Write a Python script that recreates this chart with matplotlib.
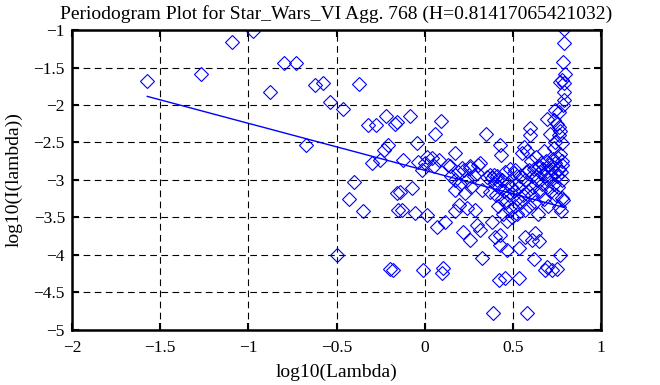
import matplotlib
matplotlib.use("Agg")
import matplotlib.pyplot as plt

# periodogram points (log10 frequency, log10 power)
log_lambda = [
    -1.573, -1.27, -1.094, -0.975, -0.879, -0.80, -0.73, -0.673, -0.622, -0.577,
    -0.537, -0.499, -0.463, -0.43, -0.404, -0.372, -0.35, -0.323, -0.30, -0.278,
    -0.253, -0.234, -0.219, -0.206, -0.197, -0.181, -0.168, -0.158, -0.155, -0.15,
    -0.14, -0.13, -0.121, -0.083, -0.073, -0.058, -0.045, -0.036, -0.017, -0.008,
    0.0, 0.012, 0.012, 0.04, 0.05, 0.055, 0.068, 0.08, 0.093, 0.096,
    0.105, 0.115, 0.134, 0.144, 0.15, 0.17, 0.172, 0.172, 0.172, 0.19,
    0.191, 0.2, 0.21, 0.22, 0.219, 0.229, 0.238, 0.24, 0.257, 0.257,
    0.257, 0.26, 0.28, 0.285, 0.295, 0.295, 0.30, 0.314, 0.314, 0.323,
    0.323, 0.346, 0.35, 0.37, 0.37, 0.38, 0.38, 0.389, 0.39, 0.399,
    0.40, 0.405, 0.41, 0.41, 0.415, 0.418, 0.42, 0.425, 0.427, 0.427,
    0.43, 0.435, 0.44, 0.445, 0.45, 0.455, 0.456, 0.46, 0.465, 0.465,
    0.47, 0.475, 0.48, 0.485, 0.49, 0.495, 0.503, 0.505, 0.51, 0.512,
    0.515, 0.52, 0.525, 0.531, 0.531, 0.535, 0.54, 0.545, 0.55, 0.555,
    0.56, 0.565, 0.569, 0.57, 0.575, 0.578, 0.58, 0.585, 0.588, 0.59,
    0.595, 0.597, 0.597, 0.60, 0.605, 0.607, 0.61, 0.615, 0.616, 0.62,
    0.625, 0.626, 0.63, 0.635, 0.64, 0.645, 0.645, 0.65, 0.655, 0.66,
    0.665, 0.67, 0.673, 0.675, 0.68, 0.682, 0.685, 0.69, 0.692, 0.692,
    0.695, 0.70, 0.70, 0.705, 0.71, 0.71, 0.715, 0.72, 0.72, 0.725,
    0.73, 0.73, 0.73, 0.735, 0.74, 0.74, 0.74, 0.745, 0.749, 0.749,
    0.75, 0.75, 0.755, 0.758, 0.758, 0.76, 0.76, 0.76, 0.765, 0.765,
    0.768, 0.768, 0.77, 0.77, 0.775, 0.777, 0.777, 0.777, 0.78, 0.78,
    0.783, 0.785, 0.785, 0.787, 0.787, 0.787, 0.787, 0.79, 0.792,
]
log_power = [
    -1.68, -1.59, -1.16, -1.01, -1.82, -1.44, -1.44, -2.53, -1.73, -1.70,
    -1.96, -4.00, -2.05, -3.25, -3.03, -1.72, -3.41, -2.26, -2.77, -2.26,
    -2.73, -2.60, -2.14, -2.53, -4.19, -4.20, -2.25, -2.23, -3.17, -3.40,
    -3.16, -3.40, -2.73, -2.14, -3.11, -3.44, -2.51, -2.76, -2.87, -4.20,
    -2.78, -2.69, -3.47, -2.71, -2.82, -2.39, -3.63, -2.73, -2.21, -4.24,
    -4.18, -3.56, -2.80, -2.82, -2.95, -3.00, -2.64, -3.13, -3.42, -2.90,
    -3.33, -3.05, -2.84, -2.87, -3.69, -3.18, -3.38, -3.00, -2.84, -3.80,
    -2.82, -3.10, -2.95, -3.40, -3.60, -2.91, -2.80, -3.67, -2.78, -3.13,
    -4.04, -2.39, -2.96, -3.16, -2.93, -2.98, -3.56, -4.77, -2.93, -3.76,
    -3.05, -3.20, -2.95, -3.00, -3.35, -4.33, -3.10, -2.53, -3.73, -3.87,
    -2.67, -3.25, -3.00, -3.45, -3.15, -2.90, -4.31, -3.30, -3.55, -3.93,
    -3.05, -3.20, -2.85, -3.40, -3.10, -3.50, -2.91, -3.15, -3.35, -2.87,
    -3.05, -3.25, -3.45, -3.91, -4.31, -3.10, -2.95, -3.30, -2.64, -3.20,
    -2.56, -3.00, -3.76, -3.40, -2.90, -4.77, -2.62, -3.15, -2.87, -3.35,
    -3.05, -2.40, -2.31, -2.75, -3.20, -3.80, -2.95, -3.10, -4.05, -2.85,
    -3.30, -3.71, -2.70, -3.00, -3.45, -2.82, -3.82, -2.90, -3.15, -2.78,
    -3.05, -2.85, -2.62, -3.25, -2.95, -4.20, -2.75, -3.10, -2.18, -4.16,
    -2.88, -3.00, -3.35, -2.80, -2.38, -2.95, -3.15, -2.85, -4.20, -2.72,
    -2.20, -2.58, -3.05, -2.90, -2.06, -2.49, -2.78, -3.20, -2.25, -4.19,
    -2.95, -2.70, -3.10, -2.09, -2.29, -2.85, -3.36, -2.40, -2.65, -2.35,
    -1.69, -4.00, -2.90, -3.42, -2.75, -1.67, -2.51, -3.00, -3.24, -2.80,
    -1.42, -3.27, -2.00, -0.99, -1.17, -1.71, -1.82, -1.93, -1.59,
]

# least squares fit line end points, as drawn
fit_x = [-1.573, 0.787]
fit_y = [-1.885, -3.365]

x_ticks = [-2, -1.5, -1, -0.5, 0, 0.5, 1]
y_ticks = [-5, -4.5, -4, -3.5, -3, -2.5, -2, -1.5, -1]

plt.rcParams['font.family'] = ['Liberation Serif', 'DejaVu Serif']
plt.rcParams['axes.unicode_minus'] = True

fig = plt.figure(figsize=(6.6, 3.85), dpi=100)
ax = fig.add_axes([0.109, 0.143, 0.802, 0.779])

ax.plot(log_lambda, log_power, linestyle='none', marker='D', markersize=7.5,
        markerfacecolor='none', markeredgecolor='blue', markeredgewidth=0.8)
ax.plot(fit_x, fit_y, color='blue', linewidth=1)

ax.set_xlim(-2, 1)
ax.set_ylim(-5, -1)
ax.set_xticks(x_ticks)
ax.set_yticks(y_ticks)
ax.set_xticklabels(['\u22122', '\u22121.5', '\u22121', '\u22120.5', '0', '0.5', '1'])
ax.set_yticklabels(['\u22125', '\u22124.5', '\u22124', '\u22123.5', '\u22123',
                    '\u22122.5', '\u22122', '\u22121.5', '\u22121'])
ax.grid(True, color='black', linestyle=(0, (6, 4)), linewidth=0.8)
ax.tick_params(direction='in', length=5, width=1.5, top=True, right=True,
               labelsize=12.5)
ax.tick_params(axis='x', pad=7)
ax.tick_params(axis='y', pad=5)
for s in ax.spines.values():
    s.set_linewidth(1.8)

ax.set_title('Periodogram Plot for Star_Wars_VI Agg. 768 (H=0.81417065421032)',
             fontsize=14, pad=8)
ax.set_xlabel('log10(Lambda)', fontsize=14, labelpad=6)
ax.set_ylabel('log10(I(lambda))', fontsize=14, labelpad=8)

fig.savefig('out.png', dpi=100)
